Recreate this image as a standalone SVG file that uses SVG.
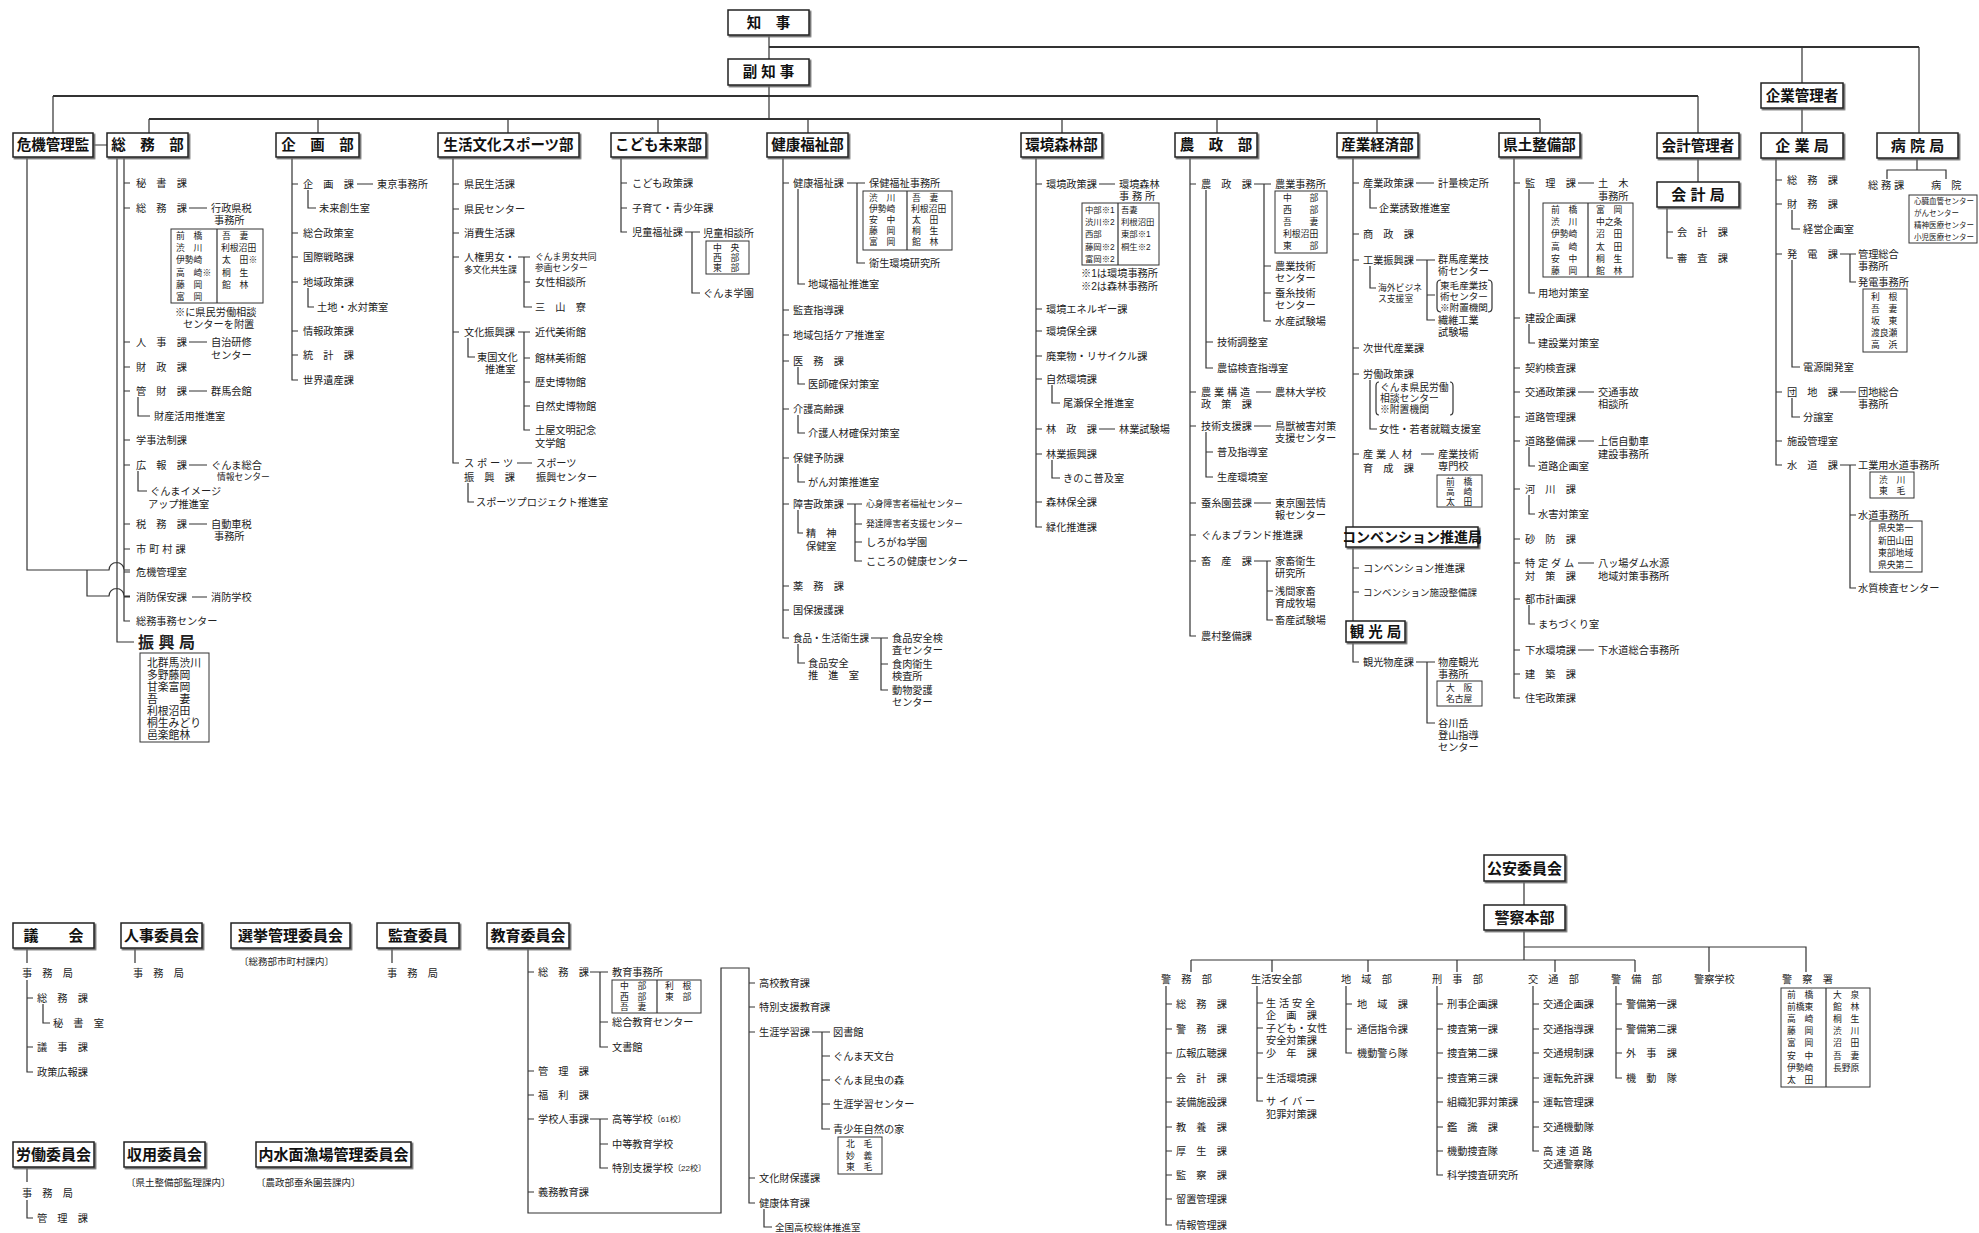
<svg xmlns="http://www.w3.org/2000/svg" width="1979" height="1233" viewBox="0 0 1979 1233">
<defs>
<filter id="sh" x="-5%" y="-10%" width="115%" height="140%"><feDropShadow dx="1.5" dy="1.5" stdDeviation="0.3" flood-color="#666"/></filter>
<style>
text{font-family:"Liberation Sans","Noto Sans CJK JP",sans-serif;dominant-baseline:central;fill:#222}
tspan{dominant-baseline:central}
.t{font-size:10.2px}
.s{font-size:8.8px}
.xs{font-size:7.5px}
.b{font-size:14.5px;font-weight:700;text-anchor:middle;fill:#111}
.bx{fill:#fff;stroke:#222;stroke-width:1.5;filter:url(#sh)}
.tb{fill:none;stroke:#333;stroke-width:1}
.ln{fill:none;stroke:#333;stroke-width:1.2}
.bar{fill:none;stroke:#333;stroke-width:2}
</style>
</defs>
<rect width="1979" height="1233" fill="#fff"/>

<g id="connectors" class="ln">
<path class="bar" d="M769 47H1919M53 96H1698M149 119H1540"/>
<path d="M769 35V59M769 86V119M1919 47V133M1802 47V83M1802 108V133M53 96V133M1698 96V133M1698 158V182M149 119V133M318 119V133M508 119V133M658 119V133M808 119V133M1062 119V133M1217 119V133M1377 119V133M1540 119V133M93 145H107"/>
<path d="M124 157V621H130M117 157V642H134M124 183H130M124 208H130M124 342H130M124 367H130M124 391H130M124 440H130M124 465H130M124 524H130M124 549H130M124 572H130M124 597H130M189 208H207M189 342H207M189 391H207M189 465H207M189 524H207M192 597H207M138 397V416H150M138 471V491H147M27 157V570H109a7.5 7.5 0 0 1 15 0H130M87 570V596H109a7.5 7.5 0 0 1 15 0H130"/>
<path d="M217 229V303"/>
<path d="M292 157V380H298M292 184H298M292 233H298M292 257H298M292 282H298M292 331H298M292 355H298M357 184H373M308 190V208H316M308 288V307H314"/>
<path d="M453 157V463H459M453 184H459M453 209H459M453 233H459M453 257H459M453 332H459M518 257H530M524 257V307H532M524 282H530M518 332H530M524 332V430H530M524 358H530M524 382H530M524 406H530M468 338V357H475M517 463H532M468 483V502H474"/>
<path d="M621 157V232H627M621 183H627M621 208H627M685 232H700M692 232V293H700"/>
<path d="M783 157V638H789M783 183H789M783 310H789M783 335H789M783 361H789M783 409H789M783 458H789M783 504H789M783 586H789M783 610H789M847 183H865M857 183V263H865M798 189V284H805M798 367V384H805M798 415V433H805M798 464V482H805M847 504H862M855 504V561H862M855 524H862M855 542H862M798 510V533H803M871 638H888M881 638V690H888M881 664H888M798 644V663H805M907 191V250"/>
<path d="M1036 157V527H1042M1036 184H1042M1036 309H1042M1036 331H1042M1036 356H1042M1036 379H1042M1036 429H1042M1036 454H1042M1036 502H1042M1099 184H1115M1099 429H1115M1052 385V403H1060M1052 460V478H1060M1118 203V265"/>
<path d="M1190 157V636H1196M1190 184H1196M1190 392H1196M1190 426H1196M1190 503H1196M1190 535H1196M1190 561H1196M1254 184H1271M1264 184V321H1271M1264 266H1271M1264 293H1271M1206 190V368H1213M1206 342H1213M1256 392H1271M1254 426H1271M1206 432V477H1213M1206 452H1213M1254 503H1271M1254 561H1271M1267 561V620H1273M1267 591H1273"/>
<path d="M1353 157V662H1359M1353 183H1359M1353 234H1359M1353 260H1359M1353 348H1359M1353 374H1359M1353 454H1359M1353 568H1359M1353 592H1359M1416 183H1434M1370 189V208H1377M1416 260H1435M1427 260V320H1435M1427 295H1435M1370 266V288H1376M1370 380V429H1377M1421 454H1434M1416 662H1435M1427 662V723H1435"/>
<path d="M1441 280Q1437 280 1437 284V308Q1437 312 1441 312M1488 280Q1492 280 1492 284V308Q1492 312 1488 312M1379 382Q1376 382 1376 386V411Q1376 415 1379 415M1450 382Q1453 382 1453 386V411Q1453 415 1450 415"/>
<path d="M1514 157V698H1520M1514 183H1520M1514 318H1520M1514 368H1520M1514 392H1520M1514 417H1520M1514 441H1520M1514 489H1520M1514 539H1520M1514 563H1520M1514 599H1520M1514 650H1520M1514 674H1520M1578 183H1594M1578 392H1594M1578 441H1594M1578 563H1594M1578 650H1594M1529 189V293H1535M1529 324V343H1535M1529 447V466H1535M1529 495V514H1535M1529 605V624H1535M1588 203V277"/>
<path d="M1667 207V258H1673M1667 232H1673"/>
<path d="M1776 158V465H1782M1776 180H1782M1776 204H1782M1776 254H1782M1776 392H1782M1776 441H1782M1792 210V229H1800M1792 260V367H1800M1792 398V417H1800M1840 254H1856M1850 254V282H1856M1840 392H1856M1840 465H1856M1850 465V588H1856M1850 515H1856"/>
<path d="M1917 158V170M1887 179V170H1946V179"/>
<path d="M27 948V963M27 980V1072H33M27 998H33M27 1047H33M43 1004V1023H50M135 948V963M392 948V963M27 1167V1182M27 1200V1218H33"/>
<path d="M528 948V1213H721V968H749V1203H755M528 972H534M528 1071H534M528 1095H534M528 1119H534M528 1192H534M749 983H755M749 1007H755M749 1032H755M749 1178H755M590 972H608M600 972V1047H608M600 1022H608M590 1119H608M600 1119V1168H608M600 1144H608M812 1032H830M822 1032V1129H830M822 1056H830M822 1080H830M822 1104H830M764 1209V1227H772M657 980V1013"/>
<path d="M1524 881V905M1524 930V960M1524 947H1806V972M1709 947V972M1191 960H1635M1191 960V972M1272 960V972M1368 960V972M1457 960V972M1555 960V972M1635 960V972"/>
<path d="M1166 986V1225H1172M1166 1004H1172M1166 1029H1172M1166 1053H1172M1166 1078H1172M1166 1102H1172M1166 1127H1172M1166 1151H1172M1166 1175H1172M1166 1199H1172"/>
<path d="M1257 986V1101H1263M1257 1003H1263M1257 1028H1263M1257 1053H1263M1257 1078H1263"/>
<path d="M1346 986V1053H1352M1346 1004H1352M1346 1029H1352"/>
<path d="M1437 986V1175H1443M1437 1004H1443M1437 1029H1443M1437 1053H1443M1437 1078H1443M1437 1102H1443M1437 1127H1443M1437 1151H1443"/>
<path d="M1533 986V1151H1539M1533 1004H1539M1533 1029H1539M1533 1053H1539M1533 1078H1539M1533 1102H1539M1533 1127H1539"/>
<path d="M1616 986V1078H1622M1616 1004H1622M1616 1029H1622M1616 1053H1622"/>
<path d="M1826 988V1087"/>
</g>

<g id="n-chiji"><rect class="bx" x="728" y="10" width="81" height="25"/><text class="b" x="768.5" y="22.5">知　事</text></g>
<g id="n-fukuchiji"><rect class="bx" x="728" y="59" width="81" height="26"/><text class="b" x="768.5" y="72">副 知 事</text></g>
<g id="n-kigyokanrisha"><rect class="bx" x="1761" y="83" width="82" height="25"/><text class="b" x="1802" y="95.5">企業管理者</text></g>
<g id="n-kikikanrikan"><rect class="bx" x="13" y="133" width="80" height="24"/><text class="b" x="53" y="145">危機管理監</text></g>

<g id="n-somubu">
<rect class="bx" x="107" y="133" width="81" height="24"/><text class="b" x="147.5" y="145">総　務　部</text>
<text class="t" x="136" y="183">秘　書　課</text>
<text class="t" x="136" y="208">総　務　課</text>
<text class="t"><tspan x="211" y="208">行政県税</tspan><tspan x="214" y="220">事務所</tspan></text>
<rect class="tb" x="171" y="229" width="92" height="74"/>
<text class="s"><tspan x="176" y="236">前　橋</tspan><tspan x="176" y="248">渋　川</tspan><tspan x="176" y="260">伊勢崎</tspan><tspan x="176" y="273">高　崎※</tspan><tspan x="176" y="285">藤　岡</tspan><tspan x="176" y="297">富　岡</tspan></text>
<text class="s"><tspan x="222" y="236">吾　妻</tspan><tspan x="221" y="248">利根沼田</tspan><tspan x="222" y="260">太　田※</tspan><tspan x="222" y="273">桐　生</tspan><tspan x="222" y="285">館　林</tspan></text>
<text class="t"><tspan x="175" y="312">※に県民労働相談</tspan><tspan x="183" y="324">センターを附置</tspan></text>
<text class="t" x="136" y="342">人　事　課</text>
<text class="t"><tspan x="211" y="342">自治研修</tspan><tspan x="211" y="355">センター</tspan></text>
<text class="t" x="136" y="367">財　政　課</text>
<text class="t" x="136" y="391">管　財　課</text><text class="t" x="211" y="391">群馬会館</text>
<text class="t" x="154" y="416">財産活用推進室</text>
<text class="t" x="136" y="440">学事法制課</text>
<text class="t" x="136" y="465">広　報　課</text>
<text><tspan class="t" x="211" y="465">ぐんま総合</tspan><tspan class="s" x="217" y="477">情報センター</tspan></text>
<text class="t"><tspan x="150" y="491">ぐんまイメージ</tspan><tspan x="148" y="504">アップ推進室</tspan></text>
<text class="t" x="136" y="524">税　務　課</text>
<text class="t"><tspan x="211" y="524">自動車税</tspan><tspan x="214" y="536">事務所</tspan></text>
<text class="t" x="136" y="549" letter-spacing="3">市町村課</text>
<text class="t" x="136" y="572">危機管理室</text>
<text class="t" x="136" y="597">消防保安課</text><text class="t" x="211" y="597">消防学校</text>
<text class="t" x="136" y="621">総務事務センター</text>
<text x="138" y="642" style="font-size:16px;font-weight:700">振 興 局</text>
<rect class="tb" x="140" y="653" width="69" height="89"/>
<text style="font-size:10.8px"><tspan x="147" y="663">北群馬渋川</tspan><tspan x="147" y="675">多野藤岡</tspan><tspan x="147" y="687">甘楽富岡</tspan><tspan x="147" y="699">吾　　妻</tspan><tspan x="147" y="711">利根沼田</tspan><tspan x="147" y="723">桐生みどり</tspan><tspan x="147" y="735">邑楽館林</tspan></text>
</g>

<g id="n-kikakubu">
<rect class="bx" x="276" y="133" width="83" height="24"/><text class="b" x="317.5" y="145">企　画　部</text>
<text class="t" x="303" y="184">企　画　課</text><text class="t" x="377" y="184">東京事務所</text>
<text class="t" x="319" y="208">未来創生室</text>
<text class="t" x="303" y="233">総合政策室</text>
<text class="t" x="303" y="257">国際戦略課</text>
<text class="t" x="303" y="282">地域政策課</text>
<text class="t" x="317" y="307">土地・水対策室</text>
<text class="t" x="303" y="331">情報政策課</text>
<text class="t" x="303" y="355">統　計　課</text>
<text class="t" x="303" y="380">世界遺産課</text>
</g>

<g id="n-seikatsubu">
<rect class="bx" x="438" y="133" width="141" height="24"/><text class="b" x="508.5" y="145">生活文化スポーツ部</text>
<text class="t" x="464" y="184">県民生活課</text>
<text class="t" x="464" y="209">県民センター</text>
<text class="t" x="464" y="233">消費生活課</text>
<text><tspan class="t" x="464" y="257">人権男女・</tspan><tspan class="s" x="464" y="270">多文化共生課</tspan></text>
<text class="s"><tspan x="535" y="257">ぐんま男女共同</tspan><tspan x="535" y="268">参画センター</tspan></text>
<text class="t" x="535" y="282">女性相談所</text>
<text class="t" x="535" y="307">三　山　寮</text>
<text class="t" x="464" y="332">文化振興課</text>
<text class="t"><tspan x="477" y="357">東国文化</tspan><tspan x="485" y="369">推進室</tspan></text>
<text class="t" x="535" y="332">近代美術館</text>
<text class="t" x="535" y="358">館林美術館</text>
<text class="t" x="535" y="382">歴史博物館</text>
<text class="t" x="535" y="406">自然史博物館</text>
<text class="t"><tspan x="535" y="430">土屋文明記念</tspan><tspan x="535" y="443">文学館</tspan></text>
<text class="t"><tspan x="464" y="463">ス ポ ー ツ</tspan><tspan x="464" y="477">振　興　課</tspan></text>
<text class="t"><tspan x="536" y="463">スポーツ</tspan><tspan x="536" y="477">振興センター</tspan></text>
<text class="t" x="476" y="502">スポーツプロジェクト推進室</text>
</g>

<g id="n-kodomobu">
<rect class="bx" x="611" y="133" width="95" height="24"/><text class="b" x="658.5" y="145">こども未来部</text>
<text class="t" x="632" y="183">こども政策課</text>
<text class="t" x="632" y="208">子育て・青少年課</text>
<text class="t" x="632" y="232">児童福祉課</text>
<text class="t" x="703" y="233">児童相談所</text>
<rect class="tb" x="706" y="241" width="43" height="33"/>
<text class="s"><tspan x="713" y="248">中　央</tspan><tspan x="713" y="258">西　部</tspan><tspan x="713" y="268">東　部</tspan></text>
<text class="t" x="703" y="293">ぐんま学園</text>
</g>

<g id="n-kenkobu">
<rect class="bx" x="767" y="133" width="81" height="24"/><text class="b" x="807.5" y="145">健康福祉部</text>
<text class="t" x="793" y="183">健康福祉課</text><text class="t" x="869" y="183">保健福祉事務所</text>
<rect class="tb" x="863" y="191" width="89" height="59"/>
<text class="s"><tspan x="869" y="198">渋　川</tspan><tspan x="869" y="209">伊勢崎</tspan><tspan x="869" y="220">安　中</tspan><tspan x="869" y="231">藤　岡</tspan><tspan x="869" y="242">富　岡</tspan></text>
<text class="s"><tspan x="912" y="198">吾　妻</tspan><tspan x="911" y="209">利根沼田</tspan><tspan x="912" y="220">太　田</tspan><tspan x="912" y="231">桐　生</tspan><tspan x="912" y="242">館　林</tspan></text>
<text class="t" x="869" y="263">衛生環境研究所</text>
<text class="t" x="808" y="284">地域福祉推進室</text>
<text class="t" x="793" y="310">監査指導課</text>
<text class="t" x="793" y="335">地域包括ケア推進室</text>
<text class="t" x="793" y="361">医　務　課</text><text class="t" x="808" y="384">医師確保対策室</text>
<text class="t" x="793" y="409">介護高齢課</text><text class="t" x="808" y="433">介護人材確保対策室</text>
<text class="t" x="793" y="458">保健予防課</text><text class="t" x="808" y="482">がん対策推進室</text>
<text class="t" x="793" y="504">障害政策課</text>
<text class="s" x="866" y="504">心身障害者福祉センター</text>
<text class="s" x="866" y="524">発達障害者支援センター</text>
<text class="t" x="866" y="542">しろがね学園</text>
<text class="t" x="866" y="561">こころの健康センター</text>
<text class="t"><tspan x="806" y="533">精　神</tspan><tspan x="806" y="546">保健室</tspan></text>
<text class="t" x="793" y="586">薬　務　課</text>
<text class="t" x="793" y="610">国保援護課</text>
<text class="t" x="793" y="638" textLength="76" lengthAdjust="spacingAndGlyphs">食品・生活衛生課</text>
<text class="t"><tspan x="892" y="638">食品安全検</tspan><tspan x="892" y="650">査センター</tspan></text>
<text class="t"><tspan x="892" y="664">食肉衛生</tspan><tspan x="892" y="676">検査所</tspan></text>
<text class="t"><tspan x="892" y="690">動物愛護</tspan><tspan x="892" y="702">センター</tspan></text>
<text class="t"><tspan x="808" y="663">食品安全</tspan><tspan x="808" y="675">推　進　室</tspan></text>
</g>

<g id="n-kankyobu">
<rect class="bx" x="1021" y="133" width="81" height="24"/><text class="b" x="1061.5" y="145">環境森林部</text>
<text class="t" x="1046" y="184">環境政策課</text>
<text class="t"><tspan x="1119" y="184">環境森林</tspan><tspan x="1119" y="196">事 務 所</tspan></text>
<rect class="tb" x="1082" y="203" width="77" height="62"/>
<text style="font-size:8.4px"><tspan x="1085" y="210">中部※1</tspan><tspan x="1085" y="222">渋川※2</tspan><tspan x="1085" y="234">西部</tspan><tspan x="1085" y="247">藤岡※2</tspan><tspan x="1085" y="259">富岡※2</tspan></text>
<text style="font-size:8.4px"><tspan x="1121" y="210">吾妻</tspan><tspan x="1121" y="222">利根沼田</tspan><tspan x="1121" y="234">東部※1</tspan><tspan x="1121" y="247">桐生※2</tspan></text>
<text class="t"><tspan x="1081" y="273">※1は環境事務所</tspan><tspan x="1081" y="286">※2は森林事務所</tspan></text>
<text class="t" x="1046" y="309">環境エネルギー課</text>
<text class="t" x="1046" y="331">環境保全課</text>
<text class="t" x="1046" y="356">廃棄物・リサイクル課</text>
<text class="t" x="1046" y="379">自然環境課</text><text class="t" x="1063" y="403">尾瀬保全推進室</text>
<text class="t" x="1046" y="429">林　政　課</text><text class="t" x="1119" y="429">林業試験場</text>
<text class="t" x="1046" y="454">林業振興課</text><text class="t" x="1063" y="478">きのこ普及室</text>
<text class="t" x="1046" y="502">森林保全課</text>
<text class="t" x="1046" y="527">緑化推進課</text>
</g>

<g id="n-noseibu">
<rect class="bx" x="1175" y="133" width="82" height="24"/><text class="b" x="1216" y="145">農　政　部</text>
<text class="t" x="1201" y="184">農　政　課</text><text class="t" x="1275" y="184">農業事務所</text>
<rect class="tb" x="1275" y="191" width="52" height="62"/>
<text class="s"><tspan x="1283" y="198">中　　部</tspan><tspan x="1283" y="210">西　　部</tspan><tspan x="1283" y="222">吾　　妻</tspan><tspan x="1283" y="234">利根沼田</tspan><tspan x="1283" y="246">東　　部</tspan></text>
<text class="t"><tspan x="1275" y="266">農業技術</tspan><tspan x="1275" y="278">センター</tspan></text>
<text class="t"><tspan x="1275" y="293">蚕糸技術</tspan><tspan x="1275" y="305">センター</tspan></text>
<text class="t" x="1275" y="321">水産試験場</text>
<text class="t" x="1217" y="342">技術調整室</text>
<text class="t" x="1217" y="368">農協検査指導室</text>
<text class="t"><tspan x="1201" y="392">農 業 構 造</tspan><tspan x="1201" y="404">政　策　課</tspan></text>
<text class="t" x="1275" y="392">農林大学校</text>
<text class="t" x="1201" y="426">技術支援課</text>
<text class="t"><tspan x="1275" y="426">鳥獣被害対策</tspan><tspan x="1275" y="438">支援センター</tspan></text>
<text class="t" x="1217" y="452">普及指導室</text><text class="t" x="1217" y="477">生産環境室</text>
<text class="t" x="1201" y="503">蚕糸園芸課</text>
<text class="t"><tspan x="1275" y="503">東京園芸情</tspan><tspan x="1275" y="515">報センター</tspan></text>
<text class="t" x="1201" y="535">ぐんまブランド推進課</text>
<text class="t" x="1201" y="561">畜　産　課</text>
<text class="t"><tspan x="1275" y="561">家畜衛生</tspan><tspan x="1275" y="573">研究所</tspan></text>
<text class="t"><tspan x="1275" y="591">浅間家畜</tspan><tspan x="1275" y="603">育成牧場</tspan></text>
<text class="t" x="1275" y="620">畜産試験場</text>
<text class="t" x="1201" y="636">農村整備課</text>
</g>

<g id="n-sangyobu">
<rect class="bx" x="1337" y="133" width="81" height="24"/><text class="b" x="1377.5" y="145">産業経済部</text>
<text class="t" x="1363" y="183">産業政策課</text><text class="t" x="1438" y="183">計量検定所</text>
<text class="t" x="1379" y="208">企業誘致推進室</text>
<text class="t" x="1363" y="234">商　政　課</text>
<text class="t" x="1363" y="260">工業振興課</text>
<text class="t"><tspan x="1438" y="259">群馬産業技</tspan><tspan x="1438" y="271">術センター</tspan></text>
<text style="font-size:9.6px"><tspan x="1440" y="285">東毛産業技</tspan><tspan x="1440" y="296">術センター</tspan><tspan x="1440" y="307">※附置機関</tspan></text>
<text class="t"><tspan x="1438" y="320">繊維工業</tspan><tspan x="1438" y="332">試験場</tspan></text>
<text class="s"><tspan x="1378" y="288">海外ビジネ</tspan><tspan x="1378" y="299">ス支援室</tspan></text>
<text class="t" x="1363" y="348">次世代産業課</text>
<text class="t" x="1363" y="374">労働政策課</text>
<text style="font-size:9.8px"><tspan x="1380" y="387">ぐんま県民労働</tspan><tspan x="1380" y="398">相談センター</tspan><tspan x="1380" y="409">※附置機関</tspan></text>
<text class="t" x="1379" y="429">女性・若者就職支援室</text>
<text class="t"><tspan x="1363" y="454">産 業 人 材</tspan><tspan x="1363" y="468">育　成　課</tspan></text>
<text class="t"><tspan x="1438" y="454">産業技術</tspan><tspan x="1438" y="466">専門校</tspan></text>
<rect class="tb" x="1437" y="475" width="45" height="32"/>
<text class="s"><tspan x="1446" y="482">前　橋</tspan><tspan x="1446" y="492">高　崎</tspan><tspan x="1446" y="502">太　田</tspan></text>
</g>
<g id="n-convention">
<rect class="bx" x="1346" y="527" width="132" height="20"/><text class="b" x="1412" y="537" style="font-size:14px">コンベンション推進局</text>
<text class="t" x="1363" y="568">コンベンション推進課</text>
<text class="t" x="1363" y="592" style="font-size:9.5px">コンベンション施設整備課</text>
</g>
<g id="n-kankokyoku">
<rect class="bx" x="1346" y="621" width="59" height="21"/><text class="b" x="1375.5" y="631.5">観 光 局</text>
<text class="t" x="1363" y="662">観光物産課</text>
<text class="t"><tspan x="1438" y="662">物産観光</tspan><tspan x="1438" y="674">事務所</tspan></text>
<rect class="tb" x="1437" y="681" width="45" height="25"/>
<text class="s"><tspan x="1446" y="688">大　阪</tspan><tspan x="1446" y="699">名古屋</tspan></text>
<text class="t"><tspan x="1438" y="723">谷川岳</tspan><tspan x="1438" y="735">登山指導</tspan><tspan x="1438" y="747">センター</tspan></text>
</g>

<g id="n-kendobu">
<rect class="bx" x="1499" y="133" width="81" height="24"/><text class="b" x="1539.5" y="145">県土整備部</text>
<text class="t" x="1525" y="183">監　理　課</text>
<text class="t"><tspan x="1598" y="183">土　木</tspan><tspan x="1598" y="196">事務所</tspan></text>
<rect class="tb" x="1543" y="203" width="90" height="74"/>
<text class="s"><tspan x="1551" y="209.5">前　橋</tspan><tspan x="1551" y="222">渋　川</tspan><tspan x="1551" y="234">伊勢崎</tspan><tspan x="1551" y="246.5">高　崎</tspan><tspan x="1551" y="259">安　中</tspan><tspan x="1551" y="271">藤　岡</tspan></text>
<text class="s"><tspan x="1596" y="209.5">富　岡</tspan><tspan x="1596" y="222">中之条</tspan><tspan x="1596" y="234">沼　田</tspan><tspan x="1596" y="246.5">太　田</tspan><tspan x="1596" y="259">桐　生</tspan><tspan x="1596" y="271">館　林</tspan></text>
<text class="t" x="1538" y="293">用地対策室</text>
<text class="t" x="1525" y="318">建設企画課</text><text class="t" x="1538" y="343">建設業対策室</text>
<text class="t" x="1525" y="368">契約検査課</text>
<text class="t" x="1525" y="392">交通政策課</text>
<text class="t"><tspan x="1598" y="392">交通事故</tspan><tspan x="1598" y="404">相談所</tspan></text>
<text class="t" x="1525" y="417">道路管理課</text>
<text class="t" x="1525" y="441">道路整備課</text>
<text class="t"><tspan x="1598" y="441">上信自動車</tspan><tspan x="1598" y="454">建設事務所</tspan></text>
<text class="t" x="1538" y="466">道路企画室</text>
<text class="t" x="1525" y="489">河　川　課</text><text class="t" x="1538" y="514">水害対策室</text>
<text class="t" x="1525" y="539">砂　防　課</text>
<text class="t"><tspan x="1525" y="563">特 定 ダ ム</tspan><tspan x="1525" y="576">対　策　課</tspan></text>
<text class="t"><tspan x="1598" y="563">八ッ場ダム水源</tspan><tspan x="1598" y="576">地域対策事務所</tspan></text>
<text class="t" x="1525" y="599">都市計画課</text><text class="t" x="1538" y="624">まちづくり室</text>
<text class="t" x="1525" y="650">下水環境課</text><text class="t" x="1598" y="650">下水道総合事務所</text>
<text class="t" x="1525" y="674">建　築　課</text>
<text class="t" x="1525" y="698">住宅政策課</text>
</g>

<g id="n-kaikeikanrisha"><rect class="bx" x="1657" y="133" width="82" height="25"/><text class="b" x="1698" y="145.5">会計管理者</text></g>
<g id="n-kaikeikyoku">
<rect class="bx" x="1657" y="182" width="82" height="25"/><text class="b" x="1698" y="194.5" style="font-size:15px">会 計 局</text>
<text class="t" x="1677" y="232">会　計　課</text>
<text class="t" x="1677" y="258">審　査　課</text>
</g>

<g id="n-kigyokyoku">
<rect class="bx" x="1761" y="133" width="82" height="25"/><text class="b" x="1802" y="145.5" style="font-size:15px">企 業 局</text>
<text class="t" x="1787" y="180">総　務　課</text>
<text class="t" x="1787" y="204">財　務　課</text><text class="t" x="1803" y="229">経営企画室</text>
<text class="t" x="1787" y="254">発　電　課</text>
<text class="t"><tspan x="1858" y="254">管理総合</tspan><tspan x="1858" y="266">事務所</tspan></text>
<text class="t" x="1858" y="282">発電事務所</text>
<rect class="tb" x="1863" y="289" width="44" height="63"/>
<text class="s"><tspan x="1871" y="297">利　根</tspan><tspan x="1871" y="309">吾　妻</tspan><tspan x="1871" y="321">坂　東</tspan><tspan x="1871" y="333">渡良瀬</tspan><tspan x="1871" y="345">高　浜</tspan></text>
<text class="t" x="1803" y="367">電源開発室</text>
<text class="t" x="1787" y="392">団　地　課</text>
<text class="t"><tspan x="1858" y="392">団地総合</tspan><tspan x="1858" y="404">事務所</tspan></text>
<text class="t" x="1803" y="417">分譲室</text>
<text class="t" x="1787" y="441">施設管理室</text>
<text class="t" x="1787" y="465">水　道　課</text><text class="t" x="1858" y="465">工業用水道事務所</text>
<rect class="tb" x="1870" y="472" width="44" height="26"/>
<text class="s"><tspan x="1879" y="480">渋　川</tspan><tspan x="1879" y="491">東　毛</tspan></text>
<text class="t" x="1858" y="515">水道事務所</text>
<rect class="tb" x="1870" y="521" width="52" height="51"/>
<text class="s"><tspan x="1878" y="528">県央第一</tspan><tspan x="1878" y="540.5">新田山田</tspan><tspan x="1878" y="553">東部地域</tspan><tspan x="1878" y="565">県央第二</tspan></text>
<text class="t" x="1858" y="588">水質検査センター</text>
</g>

<g id="n-byoinkyoku">
<rect class="bx" x="1877" y="133" width="81" height="25"/><text class="b" x="1917.5" y="145.5" style="font-size:15px">病 院 局</text>
<text class="t" x="1868" y="185">総 務 課</text>
<text class="t" x="1931" y="185">病　院</text>
<rect class="tb" x="1909" y="195" width="68" height="48"/>
<text class="xs"><tspan x="1914" y="201">心臓血管センター</tspan><tspan x="1914" y="213">がんセンター</tspan><tspan x="1914" y="225">精神医療センター</tspan><tspan x="1914" y="237">小児医療センター</tspan></text>
</g>

<g id="n-gikai">
<rect class="bx" x="13" y="923" width="81" height="25"/><text class="b" x="53.5" y="935.5" style="font-size:15px">議　　会</text>
<text class="t" x="22" y="973">事　務　局</text>
<text class="t" x="37" y="998">総　務　課</text>
<text class="t" x="53" y="1023">秘　書　室</text>
<text class="t" x="37" y="1047">議　事　課</text>
<text class="t" x="37" y="1072">政策広報課</text>
</g>
<g id="n-jinji">
<rect class="bx" x="121" y="923" width="81" height="25"/><text class="b" x="161.5" y="935.5" style="font-size:15px">人事委員会</text>
<text class="t" x="133" y="973">事　務　局</text>
</g>
<g id="n-senkyo">
<rect class="bx" x="231" y="923" width="119" height="25"/><text class="b" x="290.5" y="935.5" style="font-size:15px">選挙管理委員会</text>
<text x="239" y="961" style="font-size:9.5px">〔総務部市町村課内〕</text>
</g>
<g id="n-kansa">
<rect class="bx" x="377" y="923" width="82" height="25"/><text class="b" x="418" y="935.5" style="font-size:15px">監査委員</text>
<text class="t" x="387" y="973">事　務　局</text>
</g>
<g id="n-rodo">
<rect class="bx" x="13" y="1142" width="81" height="25"/><text class="b" x="53.5" y="1154.5" style="font-size:15px">労働委員会</text>
<text class="t" x="22" y="1193">事　務　局</text>
<text class="t" x="37" y="1218">管　理　課</text>
</g>
<g id="n-shuyo">
<rect class="bx" x="124" y="1142" width="81" height="25"/><text class="b" x="164.5" y="1154.5" style="font-size:15px">収用委員会</text>
<text x="126" y="1182" style="font-size:9.5px">〔県土整備部監理課内〕</text>
</g>
<g id="n-naisuimen">
<rect class="bx" x="256" y="1142" width="155" height="25"/><text class="b" x="333.5" y="1154.5" style="font-size:15px">内水面漁場管理委員会</text>
<text x="256" y="1182" style="font-size:9.5px">〔農政部蚕糸園芸課内〕</text>
</g>

<g id="n-kyoiku">
<rect class="bx" x="487" y="923" width="82" height="25"/><text class="b" x="528" y="935.5" style="font-size:15px">教育委員会</text>
<text class="t" x="538" y="972">総　務　課</text>
<text class="t" x="612" y="972">教育事務所</text>
<rect class="tb" x="612" y="980" width="89" height="33"/>
<text class="s"><tspan x="620" y="986">中　部</tspan><tspan x="620" y="997">西　部</tspan><tspan x="620" y="1007">吾　妻</tspan></text>
<text class="s"><tspan x="665" y="986">利　根</tspan><tspan x="665" y="997">東　部</tspan></text>
<text class="t" x="612" y="1022">総合教育センター</text>
<text class="t" x="612" y="1047">文書館</text>
<text class="t" x="538" y="1071">管　理　課</text>
<text class="t" x="538" y="1095">福　利　課</text>
<text class="t" x="538" y="1119">学校人事課</text>
<text class="t" x="612" y="1119">高等学校<tspan style="font-size:8px">〔61校〕</tspan></text>
<text class="t" x="612" y="1144">中等教育学校</text>
<text class="t" x="612" y="1168">特別支援学校<tspan style="font-size:8px">〔22校〕</tspan></text>
<text class="t" x="538" y="1192">義務教育課</text>
<text class="t" x="759" y="983">高校教育課</text>
<text class="t" x="759" y="1007">特別支援教育課</text>
<text class="t" x="759" y="1032">生涯学習課</text>
<text class="t" x="833" y="1032">図書館</text>
<text class="t" x="833" y="1056">ぐんま天文台</text>
<text class="t" x="833" y="1080">ぐんま昆虫の森</text>
<text class="t" x="833" y="1104">生涯学習センター</text>
<text class="t" x="833" y="1129">青少年自然の家</text>
<rect class="tb" x="838" y="1137" width="44" height="37"/>
<text class="s"><tspan x="846" y="1144">北　毛</tspan><tspan x="846" y="1156">妙　義</tspan><tspan x="846" y="1167">東　毛</tspan></text>
<text class="t" x="759" y="1178">文化財保護課</text>
<text class="t" x="759" y="1203">健康体育課</text>
<text x="775" y="1227" style="font-size:9.5px">全国高校総体推進室</text>
</g>

<g id="n-koan"><rect class="bx" x="1484" y="855" width="81" height="26"/><text class="b" x="1524.5" y="868" style="font-size:15px">公安委員会</text></g>
<g id="n-keisatsuhonbu"><rect class="bx" x="1484" y="905" width="81" height="25"/><text class="b" x="1524.5" y="917.5" style="font-size:15px">警察本部</text></g>

<g id="n-keimubu">
<text class="t" x="1161" y="979">警　務　部</text>
<text class="t" x="1176" y="1004">総　務　課</text><text class="t" x="1176" y="1029">警　務　課</text><text class="t" x="1176" y="1053">広報広聴課</text><text class="t" x="1176" y="1078">会　計　課</text><text class="t" x="1176" y="1102">装備施設課</text><text class="t" x="1176" y="1127">教　養　課</text><text class="t" x="1176" y="1151">厚　生　課</text><text class="t" x="1176" y="1175">監　察　課</text><text class="t" x="1176" y="1199">留置管理課</text><text class="t" x="1176" y="1225">情報管理課</text>
</g>
<g id="n-seikatsuanzenbu">
<text class="t" x="1251" y="979">生活安全部</text>
<text class="t"><tspan x="1266" y="1003">生 活 安 全</tspan><tspan x="1266" y="1015">企　画　課</tspan></text>
<text class="t"><tspan x="1266" y="1028">子ども・女性</tspan><tspan x="1266" y="1040">安全対策課</tspan></text>
<text class="t" x="1266" y="1053">少　年　課</text>
<text class="t" x="1266" y="1078">生活環境課</text>
<text class="t"><tspan x="1266" y="1101">サ イ バ ー</tspan><tspan x="1266" y="1114">犯罪対策課</tspan></text>
</g>
<g id="n-chiikibu">
<text class="t" x="1341" y="979">地　域　部</text>
<text class="t" x="1357" y="1004">地　域　課</text><text class="t" x="1357" y="1029">通信指令課</text><text class="t" x="1357" y="1053">機動警ら隊</text>
</g>
<g id="n-keijibu">
<text class="t" x="1432" y="979">刑　事　部</text>
<text class="t" x="1447" y="1004">刑事企画課</text><text class="t" x="1447" y="1029">捜査第一課</text><text class="t" x="1447" y="1053">捜査第二課</text><text class="t" x="1447" y="1078">捜査第三課</text><text class="t" x="1447" y="1102">組織犯罪対策課</text><text class="t" x="1447" y="1127">鑑　識　課</text><text class="t" x="1447" y="1151">機動捜査隊</text><text class="t" x="1447" y="1175">科学捜査研究所</text>
</g>
<g id="n-kotsubu">
<text class="t" x="1528" y="979">交　通　部</text>
<text class="t" x="1543" y="1004">交通企画課</text><text class="t" x="1543" y="1029">交通指導課</text><text class="t" x="1543" y="1053">交通規制課</text><text class="t" x="1543" y="1078">運転免許課</text><text class="t" x="1543" y="1102">運転管理課</text><text class="t" x="1543" y="1127">交通機動隊</text>
<text class="t"><tspan x="1543" y="1151">高 速 道 路</tspan><tspan x="1543" y="1164">交通警察隊</tspan></text>
</g>
<g id="n-keibibu">
<text class="t" x="1611" y="979">警　備　部</text>
<text class="t" x="1626" y="1004">警備第一課</text><text class="t" x="1626" y="1029">警備第二課</text><text class="t" x="1626" y="1053">外　事　課</text><text class="t" x="1626" y="1078">機　動　隊</text>
</g>
<g id="n-keisatsugakko"><text class="t" x="1694" y="979">警察学校</text></g>
<g id="n-keisatsusho">
<text class="t" x="1782" y="979">警　察　署</text>
<rect class="tb" x="1781" y="988" width="89" height="99"/>
<text class="s"><tspan x="1787" y="995">前　橋</tspan><tspan x="1787" y="1007">前橋東</tspan><tspan x="1787" y="1019">高　崎</tspan><tspan x="1787" y="1031">藤　岡</tspan><tspan x="1787" y="1043">富　岡</tspan><tspan x="1787" y="1056">安　中</tspan><tspan x="1787" y="1068">伊勢崎</tspan><tspan x="1787" y="1080">太　田</tspan></text>
<text class="s"><tspan x="1833" y="995">大　泉</tspan><tspan x="1833" y="1007">館　林</tspan><tspan x="1833" y="1019">桐　生</tspan><tspan x="1833" y="1031">渋　川</tspan><tspan x="1833" y="1043">沼　田</tspan><tspan x="1833" y="1056">吾　妻</tspan><tspan x="1833" y="1068">長野原</tspan></text>
</g>
</svg>
